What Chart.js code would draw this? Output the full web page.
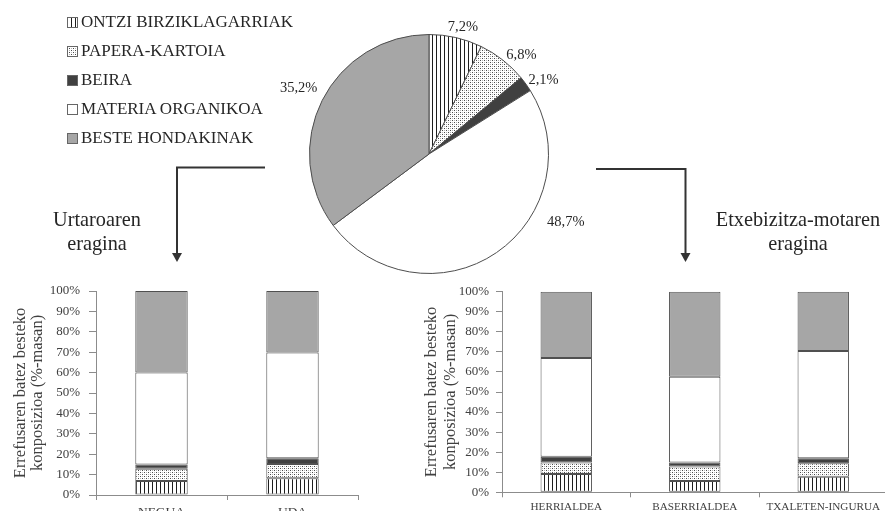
<!DOCTYPE html>
<html>
<head>
<meta charset="utf-8">
<script src="https://cdn.jsdelivr.net/npm/chart.js@4.4.1/dist/chart.umd.min.js"></script>
<style>
  html, body { margin: 0; padding: 0; background: #fff; }
  body {
    width: 885px; height: 511px; position: relative; overflow: hidden;
    font-family: "Liberation Serif", "Times New Roman", serif; color: #262626;
  }
  .box { position: absolute; }
  #legend { left: 67px; top: 7.5px; }
  .item { display: flex; align-items: center; height: 29.1px; font-size: 17px; white-space: nowrap; }
  .item canvas { margin-right: 3px; }
  .note { position: absolute; font-size: 20.3px; text-align: center; line-height: 24px; white-space: nowrap; }
  svg { position: absolute; left: 0; top: 0; }
</style>
</head>
<body>
<div id="legend" class="box"></div>
<div class="box" style="left:260px;top:0"><canvas id="pieChart" width="340" height="306"></canvas></div>
<div class="box" style="left:0;top:280px"><canvas id="seasonChart" width="365" height="240"></canvas></div>
<div class="box" style="left:420px;top:280px"><canvas id="housingChart" width="470" height="240"></canvas></div>

<svg width="885" height="511">
  <g stroke="#333" stroke-width="2" fill="none">
    <polyline points="265,167.5 177,167.5 177,256" />
    <polyline points="596,169 685.5,169 685.5,256" />
  </g>
  <g fill="#333">
    <polygon points="172,253 182,253 177,262" />
    <polygon points="680.5,253 690.5,253 685.5,262" />
  </g>
</svg>

<div class="note" style="left:40px;top:207px;width:114px">Urtaroaren<br>eragina</div>
<div class="note" style="left:708px;top:207px;width:180px">Etxebizitza-motaren<br>eragina</div>

<script>
// waste types, bottom to top in every stack and clockwise in the pie
const categories = ["ONTZI BIRZIKLAGARRIAK", "PAPERA-KARTOIA", "BEIRA", "MATERIA ORGANIKOA", "BESTE HONDAKINAK"];
const totalShare = [7.2, 6.8, 2.1, 48.7, 35.2];

// season breakdown (% mass)
const seasons = ["NEGUA", "UDA"];
const neguaShare = [6.9, 6.0, 2.1, 45.0, 40.0];
const udaShare = [8.2, 7.0, 2.8, 51.8, 30.2];

// dwelling type breakdown (% mass)
const housing = ["HERRIALDEA", "BASERRIALDEA", "TXALETEN-INGURUA"];
const herrialdeaShare = [9.1, 5.7, 2.9, 49.2, 33.1];
const baserrialdeaShare = [5.6, 7.2, 2.0, 42.8, 42.4];
const txaletenShare = [7.8, 6.7, 2.5, 53.4, 29.6];

const yTitle = ["Errefusaren batez besteko", "konposizioa (%-masan)"];

const serif = "'Liberation Serif', 'Times New Roman', serif";
const axisGray = "#8c8c8c";
const edgeGray = "#505050";
const textGray = "#404040";

function makePattern(kind) {
  const c = document.createElement("canvas");
  c.width = 4; c.height = 4;
  const g = c.getContext("2d");
  g.fillStyle = "#fff";
  g.fillRect(0, 0, 4, 4);
  if (kind === "lines") {
    g.fillStyle = "#1e1e1e";
    g.fillRect(0, 0, 1, 4);
  } else {
    g.fillStyle = "#4a4a4a";
    g.fillRect(0, 0, 1, 1);
    g.fillRect(2, 2, 1, 1);
    g.fillStyle = "#b4b4b4";
    g.fillRect(2, 0, 1, 1);
    g.fillRect(0, 2, 1, 1);
  }
  return g.createPattern(c, "repeat");
}

const fills = [makePattern("lines"), makePattern("dots"), "#404040", "#ffffff", "#a6a6a6"];

// legend
const legend = document.getElementById("legend");
categories.forEach((name, i) => {
  const row = document.createElement("div");
  row.className = "item";
  const sw = document.createElement("canvas");
  sw.width = 11; sw.height = 11;
  const g = sw.getContext("2d");
  g.fillStyle = fills[i];
  g.fillRect(0, 0, 11, 11);
  g.strokeStyle = "#666";
  g.lineWidth = 1;
  g.strokeRect(0.5, 0.5, 10, 10);
  row.appendChild(sw);
  row.appendChild(document.createTextNode(name));
  legend.appendChild(row);
});

// percentage labels around the pie
const pieLabels = {
  id: "pieLabels",
  afterDatasetsDraw(chart, args, opts) {
    const ctx = chart.ctx;
    const meta = chart.getDatasetMeta(0);
    const values = chart.data.datasets[0].data;
    ctx.save();
    ctx.font = opts.font;
    ctx.fillStyle = opts.color;
    ctx.textAlign = "center";
    ctx.textBaseline = "middle";
    meta.data.forEach((arc, i) => {
      const a = (arc.startAngle + arc.endAngle) / 2 + opts.shift[i] * Math.PI / 180;
      const r = arc.outerRadius * opts.radius[i];
      const text = values[i].toFixed(1).replace(".", ",") + "%";
      ctx.fillText(text, arc.x + Math.cos(a) * r, arc.y + Math.sin(a) * r);
    });
    ctx.restore();
  }
};

new Chart(document.getElementById("pieChart"), {
  type: "pie",
  data: {
    labels: categories,
    datasets: [{
      data: totalShare,
      backgroundColor: fills,
      borderColor: "#4d4d4d",
      borderWidth: 1
    }]
  },
  options: {
    responsive: false,
    animation: false,
    layout: { padding: { left: 49, right: 51, top: 34, bottom: 32 } },
    plugins: {
      legend: { display: false },
      tooltip: { enabled: false },
      pieLabels: {
        font: "14.5px " + serif,
        color: "#262626",
        radius: [1.10, 1.13, 1.14, 1.28, 1.22],
        shift: [2, 5, 3, -29, 0]
      }
    }
  },
  plugins: [pieLabels]
});

function stackedChart(id, labels, rows, opt) {
  const datasets = categories.map((name, k) => ({
    label: name,
    data: rows.map(r => r[k]),
    backgroundColor: fills[k],
    borderColor: edgeGray,
    borderWidth: 1,
    borderSkipped: false,
    barPercentage: 0.4,
    categoryPercentage: 1
  }));
  return new Chart(document.getElementById(id), {
    type: "bar",
    data: { labels, datasets },
    options: {
      responsive: false,
      animation: false,
      layout: { padding: opt.padding },
      plugins: { legend: { display: false }, tooltip: { enabled: false } },
      scales: {
        x: {
          stacked: true,
          grid: { offset: true, drawOnChartArea: false, tickLength: 5, color: axisGray },
          border: { color: axisGray },
          ticks: {
            font: { family: serif, size: opt.xFont },
            color: textGray,
            padding: opt.xPad,
            maxRotation: 0,
            autoSkip: false
          },
          afterFit: s => {
            s.height = opt.xHeight;
            s.paddingLeft = 0;
            s.paddingRight = 0;
          }
        },
        y: {
          stacked: true,
          min: 0,
          max: 100,
          grid: { drawOnChartArea: false, tickLength: opt.yTick, color: axisGray },
          border: { color: axisGray },
          ticks: {
            stepSize: 10,
            callback: v => v + "%",
            font: { family: serif, size: 13 },
            color: textGray,
            padding: opt.yPad
          },
          title: {
            display: true,
            text: yTitle,
            color: textGray,
            font: { family: serif, size: 16.5, lineHeight: opt.titleLine },
            padding: { top: opt.titlePad, bottom: 0 }
          },
          // fixed axis width so the plot area lands where intended
          afterFit: s => {
            s.width = opt.yWidth;
            s.paddingTop = 0;
            s.paddingBottom = 0;
          }
        }
      }
    }
  });
}

stackedChart("seasonChart", seasons, [neguaShare, udaShare], {
  padding: { left: 0, top: 11, right: 7, bottom: 0 },
  xHeight: 25, yWidth: 96, xFont: 13.5, xPad: 4.3, yTick: 7, yPad: 9,
  titlePad: 12.5, titleLine: 1.03
});

stackedChart("housingChart", housing, [herrialdeaShare, baserrialdeaShare, txaletenShare], {
  padding: { left: 0, top: 11.7, right: 2.5, bottom: 0 },
  xHeight: 27.7, yWidth: 82, xFont: 11.2, xPad: 2.7, yTick: 6, yPad: 7,
  titlePad: 2.5, titleLine: 1.15
});
</script>
</body>
</html>
